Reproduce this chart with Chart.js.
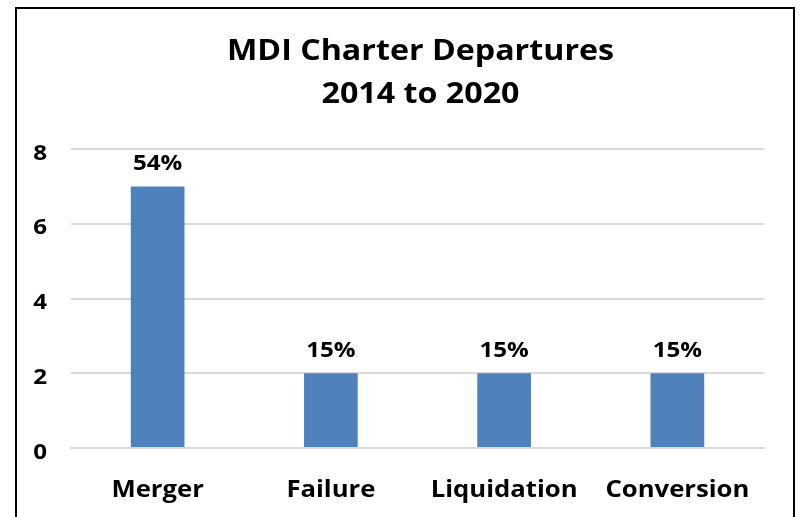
<!DOCTYPE html>
<html><head><meta charset="utf-8">
<script src="https://cdn.jsdelivr.net/npm/chart.js@4"></script>
<style>html,body{margin:0;padding:0;background:#fff;}#wrap{width:802px;height:517px;position:relative;}</style>
</head><body><div id="wrap"><canvas id="c" width="802" height="517"></canvas></div>
<script>
const categories = ['Merger', 'Failure', 'Liquidation', 'Conversion'];
const departures = [7, 2, 2, 2];
const percentLabels = ['54%', '15%', '15%', '15%'];
const yTicks = [0, 2, 4, 6, 8];
const titleLines = ['MDI Charter Departures', '2014 to 2020'];
const FONT = '"Open Sans", Lato, sans-serif';

function stretchedText(ctx, text, x, y, align, font, sx) {
  ctx.save();
  ctx.font = font;
  ctx.fillStyle = '#000';
  ctx.textAlign = align;
  ctx.textBaseline = 'alphabetic';
  ctx.translate(x, y);
  ctx.scale(sx, 1);
  ctx.fillText(text, 0, 0);
  ctx.restore();
}

const framePlugin = {
  id: 'frame',
  afterDraw(chart) {
    const ctx = chart.ctx;
    ctx.save();
    ctx.strokeStyle = '#000';
    ctx.lineWidth = 2;
    ctx.strokeRect(16, 8, 778, 520);
    ctx.restore();
  }
};
const textPlugin = {
  id: 'texts',
  afterDraw(chart) {
    const ctx = chart.ctx;
    const a = chart.chartArea;
    const cx = (a.left + a.right) / 2 + 3;
    const tf = 'bold 28px ' + FONT;
    stretchedText(ctx, titleLines[0], cx, 60, 'center', tf, 1.15);
    stretchedText(ctx, titleLines[1], cx, 103, 'center', tf, 1.15);
    const ys = chart.scales.y;
    yTicks.forEach(v => {
      stretchedText(ctx, String(v), 47, ys.getPixelForValue(v) + 10.5, 'right', 'bold 21px ' + FONT, 1.15);
    });
    const xs = chart.scales.x;
    categories.forEach((c, i) => {
      stretchedText(ctx, c, xs.getPixelForValue(i), 497, 'center', 'bold 24px ' + FONT, 1.07);
    });
  },
  afterDatasetsDraw(chart) {
    const ctx = chart.ctx;
    const meta = chart.getDatasetMeta(0);
    meta.data.forEach((bar, i) => {
      stretchedText(ctx, percentLabels[i], bar.x, bar.y - 16, 'center', 'bold 21px ' + FONT, 1.15);
    });
  }
};

new Chart(document.getElementById('c'), {
  type: 'bar',
  data: {
    labels: categories,
    datasets: [{ data: departures, backgroundColor: '#4f81bd', categoryPercentage: 0.31, barPercentage: 1 }]
  },
  options: {
    responsive: false,
    animation: false,
    layout: { padding: { left: 0, right: 38, top: 149, bottom: 0 } },
    plugins: {
      legend: { display: false },
      tooltip: { enabled: false },
      title: { display: false }
    },
    scales: {
      y: {
        min: 0, max: 8,
        afterBuildTicks(s) { s.ticks = yTicks.map(v => ({ value: v })); },
        afterFit(s) { s.width = 71; },
        grid: { color: '#d9d9d9', lineWidth: 2, drawTicks: false },
        border: { display: false },
        ticks: { display: false }
      },
      x: {
        afterFit(s) { s.height = 69; },
        grid: { display: false },
        border: { color: '#d9d9d9', width: 2 },
        ticks: { display: false }
      }
    }
  },
  plugins: [framePlugin, textPlugin]
});
</script></body></html>
